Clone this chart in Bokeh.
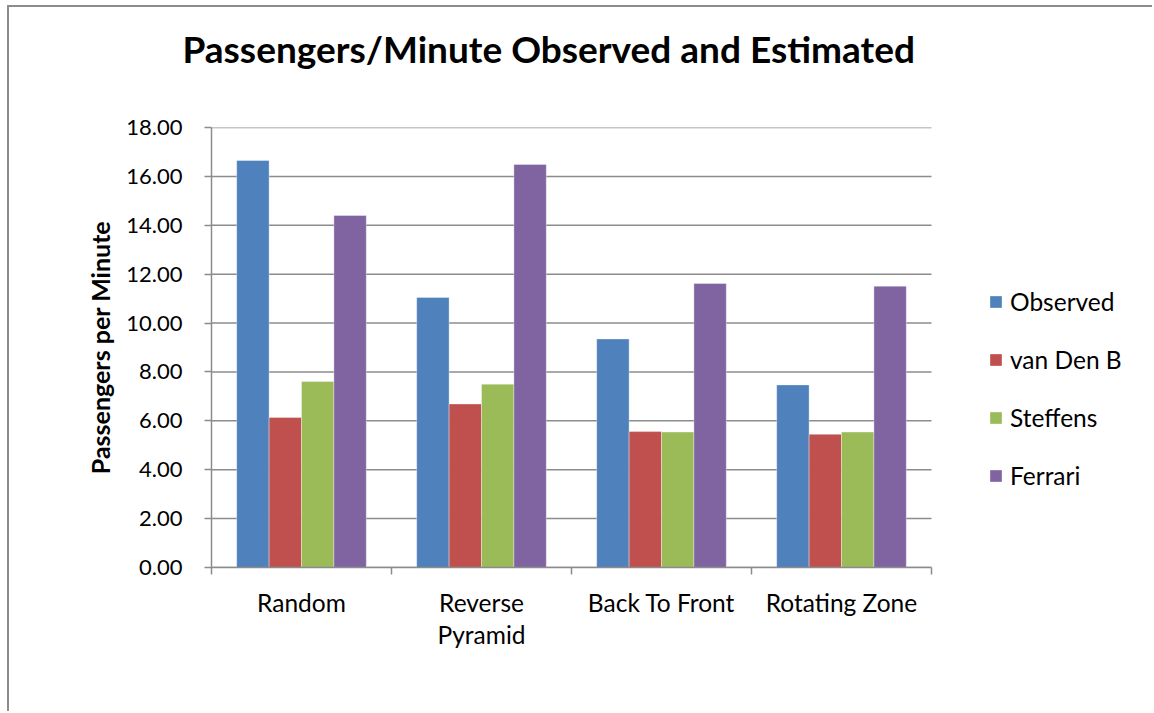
from bokeh.plotting import figure
from bokeh.models import (Range1d, FixedTicker, NumeralTickFormatter, Legend,
                          LegendItem, Title, ColumnDataSource)
from bokeh.embed import file_html
from bokeh.resources import INLINE

# Boarding strategies and passengers-per-minute rates
categories = ["Random", "Reverse Pyramid", "Back To Front", "Rotating Zone"]
category_labels = ["Random", "Reverse\nPyramid", "Back To Front", "Rotating Zone"]
observed = [16.65, 11.05, 9.35, 7.47]
van_den_b = [6.14, 6.69, 5.56, 5.45]
steffens = [7.61, 7.50, 5.54, 5.54]
ferrari = [14.40, 16.49, 11.62, 11.51]
series_names = ["Observed", "van Den B", "Steffens", "Ferrari"]
series_values = [observed, van_den_b, steffens, ferrari]
series_colors = ["#4F81BD", "#C0504D", "#9BBB59", "#8064A2"]
y_ticks = [0, 2, 4, 6, 8, 10, 12, 14, 16, 18]
chart_title = "Passengers/Minute Observed and Estimated"

FONT = "Lato"
GRAY = "#8c8c8c"

# canvas sits inside a thin chart-area border on the left and top
W, H = 1145, 706
FRAME_LEFT, FRAME_RIGHT = 202, W - 4
SLOT_PX = 180  # width of one category slot on screen
n = len(categories)

# the frame runs to the right edge so the legend can sit inside it;
# the axis line and gridlines stop at the last category slot
p = figure(width=W, height=H, output_backend="svg", toolbar_location=None,
           x_range=Range1d(0, (FRAME_RIGHT - FRAME_LEFT) / SLOT_PX),
           y_range=Range1d(0, 18),
           min_border_left=FRAME_LEFT, min_border_right=W - FRAME_RIGHT,
           min_border_top=120, min_border_bottom=146,
           styles={"margin-left": "7px", "margin-top": "5px",
                   "border-left": f"2px solid {GRAY}",
                   "border-top": f"2px solid {GRAY}"})
p.outline_line_color = None
p.background_fill_color = "white"
p.border_fill_color = "white"

# horizontal gridlines across the category slots
p.segment(x0=0, x1=n, y0=y_ticks, y1=y_ticks, line_color=GRAY, line_width=1.5)

# bars: four series side by side within each category slot
bar_w = 0.18
offsets = [-1.5 * bar_w, -0.5 * bar_w, 0.5 * bar_w, 1.5 * bar_w]
items = []
for name, vals, color, off in zip(series_names, series_values, series_colors, offsets):
    src = ColumnDataSource(dict(x=[i + 0.5 + off for i in range(n)], top=vals))
    r = p.vbar(x="x", top="top", width=bar_w, bottom=0, source=src,
               fill_color=color, line_color="white", line_alpha=0.35, line_width=1)
    items.append(LegendItem(label=name, renderers=[r]))

# axes
xa = p.xaxis[0]
xa.bounds = (0, n)
xa.ticker = FixedTicker(ticks=[i + 0.5 for i in range(n)],
                        minor_ticks=list(range(n + 1)))
xa.major_label_overrides = {i + 0.5: lab for i, lab in enumerate(category_labels)}
xa.major_tick_out = 0
xa.major_tick_in = 0
xa.minor_tick_out = 7
xa.minor_tick_in = 0
xa.minor_tick_line_color = GRAY
xa.minor_tick_line_width = 1.5
xa.axis_line_color = GRAY
xa.axis_line_width = 1.5
xa.major_label_text_font = FONT
xa.major_label_text_font_size = "24.5px"
xa.major_label_text_color = "black"
xa.major_label_standoff = 13
xa.major_label_text_line_height = 1.11

ya = p.yaxis[0]
ya.ticker = FixedTicker(ticks=y_ticks)
ya.formatter = NumeralTickFormatter(format="0.00")
ya.major_tick_out = 7
ya.major_tick_in = 0
ya.minor_tick_line_color = None
ya.major_tick_line_color = GRAY
ya.major_tick_line_width = 1.5
ya.axis_line_color = GRAY
ya.axis_line_width = 1.5
ya.major_label_text_font = FONT
ya.major_label_text_font_size = "22px"
ya.major_label_text_color = "black"
ya.major_label_standoff = 22
ya.axis_label = "Passengers per Minute"
ya.axis_label_text_font = FONT
ya.axis_label_text_font_style = "bold"
ya.axis_label_text_font_size = "25px"
ya.axis_label_text_color = "black"
ya.axis_label_standoff = 8

p.xgrid.grid_line_color = None
p.ygrid.grid_line_color = None

legend = Legend(items=items, location=(777, 77), orientation="vertical",
                glyph_width=15, glyph_height=15, label_height=24, spacing=29,
                label_standoff=7, padding=0, margin=0,
                border_line_color=None, background_fill_alpha=0,
                label_text_font=FONT, label_text_font_size="24.5px",
                label_text_color="black")
p.add_layout(legend)

# a trailing empty line lifts the heading higher above the plot area
p.add_layout(Title(text=chart_title + "\n",
                   align="left", offset=-29, standoff=19, vertical_align="top",
                   text_font=FONT, text_font_style="bold",
                   text_font_size="37px", text_color="black"), "above")

open("out.html", "w").write(file_html(p, INLINE))
